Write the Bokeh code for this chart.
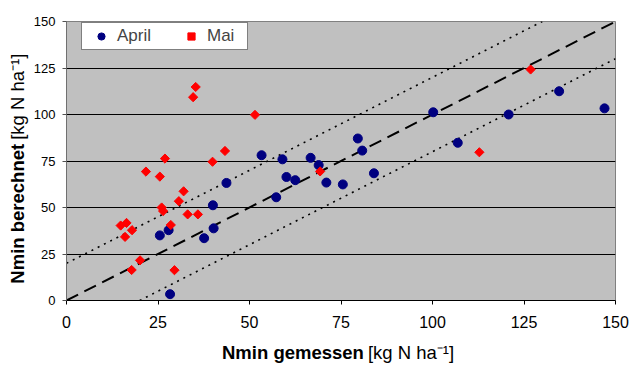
import math
from bokeh.plotting import figure
from bokeh.models import Range1d, FixedTicker, Label, Legend, LegendItem
from bokeh.embed import file_html
from bokeh.resources import INLINE

# ---- data ----
april_x = [53.3, 59.0, 66.7, 68.9, 60.1, 62.5, 71.0, 75.5, 57.3, 43.7, 40.0, 40.2,
           37.6, 27.9, 25.5, 28.3, 79.6, 80.8, 84.0, 100.2, 120.8, 134.6, 147.0, 106.9]
april_y = [78.1, 75.9, 76.7, 72.8, 66.4, 64.7, 63.4, 62.4, 55.5, 63.2, 51.2, 38.8,
           33.5, 37.8, 35.0, 3.4, 87.1, 80.6, 68.4, 101.2, 100.0, 112.5, 103.3, 84.8]

mai_x = [35.3, 34.6, 51.5, 43.3, 26.9, 39.9, 21.7, 25.5, 32.0, 30.7, 26.0, 26.4, 33.1,
         35.9, 28.5, 14.8, 16.4, 17.9, 16.0, 20.1, 17.8, 29.5, 69.3, 126.8, 112.8]
mai_y = [114.8, 109.3, 99.8, 80.4, 76.3, 74.6, 69.3, 66.6, 58.7, 53.4, 50.0, 48.1, 46.3,
         46.3, 40.6, 40.3, 41.7, 37.8, 34.2, 21.6, 16.4, 16.3, 69.4, 124.2, 79.7]

ticks = [0, 25, 50, 75, 100, 125, 150]
axis_min, axis_max = 0, 150
ref_offsets = [0, 20, -20]   # 1:1 line and +/- 20 kg N/ha lines

p = figure(width=636, height=365, x_range=Range1d(axis_min, axis_max),
           y_range=Range1d(axis_min, axis_max), output_backend="svg",
           toolbar_location=None, min_border_left=66, min_border_right=16,
           min_border_top=17, min_border_bottom=65,
           background_fill_color="#C0C0C0", border_fill_color="white")
p.outline_line_color = "#808080"

# reference lines
for off in ref_offsets:
    x0 = max(axis_min, axis_min - off)
    x1 = min(axis_max, axis_max - off)
    xs = [x0, x1]
    ys = [x0 + off, x1 + off]
    if off == 0:
        p.line(xs, ys, line_color="black", line_width=2, line_dash="13 7")
    else:
        p.line(xs, ys, line_color="black", line_width=1.6, line_dash="2 5")

r_april = p.scatter(april_x, april_y, marker="circle", size=9, color="#000080")
r_mai = p.scatter(mai_x, mai_y, marker="square", angle=math.pi / 4, size=6.5,
                  color="#FF0000")

# axes
for ax in (p.xaxis[0], p.yaxis[0]):
    ax.ticker = FixedTicker(ticks=ticks)
    ax.minor_tick_line_color = None
    ax.major_tick_in = 0
    ax.major_tick_out = 4
    ax.major_label_text_font = "Liberation Sans"
    ax.major_label_text_color = "black"
p.xaxis.major_label_text_font_size = "16px"
p.yaxis.major_label_text_font_size = "13px"
p.xaxis.major_label_standoff = 11
p.yaxis.major_label_standoff = 7
p.xaxis.axis_line_color = "black"
p.xaxis.major_tick_line_color = "black"
p.yaxis.axis_line_color = "#707070"
p.yaxis.major_tick_line_color = "#505050"

p.xgrid.visible = False
p.ygrid.ticker = FixedTicker(ticks=ticks)
p.ygrid.grid_line_color = "black"
p.ygrid.grid_line_width = 1

# axis titles (bold + normal parts); each sits in its own side panel so that it is
# not clipped to the plot frame; positions are in data units
xt_x, xt_y = 81.8, -28.0     # junction of x title parts
yt_x, yt_y = -13.5, 85.3     # junction of y title parts
common = dict(text_baseline="middle", text_font="Liberation Sans",
              text_font_size="18.5px", text_color="black")
p.add_layout(Label(x=xt_x, y=xt_y, x_offset=-2, text="Nmin gemessen", text_align="right",
                   text_font_style="bold", **common), "below")
p.add_layout(Label(x=xt_x, y=xt_y, x_offset=2, text="[kg N ha⁻¹]", text_align="left",
                   **common), "above")
p.add_layout(Label(x=yt_x, y=yt_y, y_offset=-2, text="Nmin berechnet", angle=math.pi / 2,
                   text_align="right", text_font_style="bold", **common), "left")
p.add_layout(Label(x=yt_x, y=yt_y, y_offset=2, text="[kg N ha⁻¹]", angle=math.pi / 2,
                   text_align="left", **common), "right")

legend = Legend(items=[LegendItem(label="April", renderers=[r_april]),
                       LegendItem(label="Mai", renderers=[r_mai])],
                orientation="horizontal", location=(15, 250), margin=0, padding=3,
                glyph_width=32, glyph_height=18, label_height=18, label_width=37,
                label_standoff=0, spacing=21,
                label_text_font="Liberation Sans", label_text_font_size="17px",
                background_fill_color="white", background_fill_alpha=1,
                border_line_color="black", border_line_width=1)
p.add_layout(legend)

open("out.html", "w").write(file_html(p, INLINE))
